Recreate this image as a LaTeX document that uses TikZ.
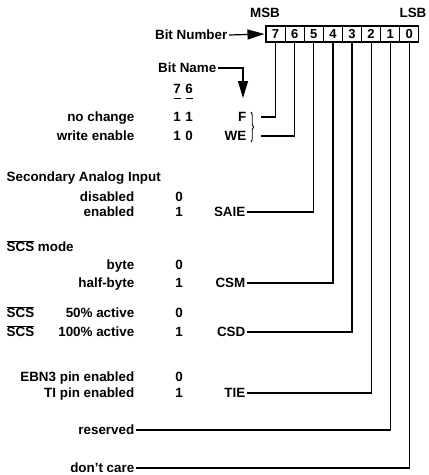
\documentclass[tikz,border=0pt]{standalone}
\usepackage{fontspec}
\setmainfont{Liberation Sans}
\usetikzlibrary{arrows.meta,decorations.pathreplacing}
\newcommand{\ovl}[1]{$\overline{\mbox{#1}}$}
\begin{document}
\begin{tikzpicture}[x=1pt,y=-1pt,
  lbl/.style={inner sep=1.5pt,font=\fontsize{13.4}{15}\selectfont\bfseries,text height=9.6pt,text depth=0pt},
  lr/.style={lbl,anchor=east},
  ll/.style={lbl,anchor=west},
  lc/.style={lbl,anchor=center},
  bitbox/.style={draw,line width=1.2pt,minimum width=19.1pt,minimum height=16pt,inner sep=0pt,font=\fontsize{13}{15}\selectfont\bfseries},
  conn/.style={line width=1.2pt},
  tri/.style={-{Triangle[length=17pt,width=10pt]}}]
\useasboundingbox (0,0) rectangle (429,475);
% bit boxes
\foreach \b/\i in {7/0,6/1,5/2,4/3,3/4,2/5,1/6,0/7}{
  \node[bitbox] (b\b) at (275.6+19.1*\i,34) {\b};
}
\node[lc] (msb) at (265,13) {MSB};
\node[lc] (lsb) at (413,13) {LSB};
\node[lr] (bitnum) at (229,35) {Bit Number};
\draw[conn,tri] (bitnum.east) -- ([xshift=-1pt]b7.west);
\node[lr] (bitname) at (218,68) {Bit Name};
\coordinate (bnc) at (243,68);
\coordinate (bnt) at (243,98);
\draw[conn,tri] (bitname.east) -- (bnc) -- (bnt);
% column header 7 6
\node[lc] (h7) at (177,89) {7};
\node[lc] (h6) at (189,89) {6};
\draw[conn] ([xshift=-3.5pt,yshift=-3pt]h7.south) -- ([xshift=3.5pt,yshift=-3pt]h7.south);
\draw[conn] ([xshift=-3.5pt,yshift=-3pt]h6.south) -- ([xshift=3.5pt,yshift=-3pt]h6.south);
% F / WE
\node[lr] (nochange) at (136,117) {no change};
\node[lc] (v71) at (177,117) {1};
\node[lc] (v61) at (189,117) {1};
\node[lr] (F) at (248,117) {F};
\node[lr] (wenable) at (136,136) {write enable};
\node[lc] (v72) at (177,136) {1};
\node[lc] (v62) at (189,136) {0};
\node[lr] (WE) at (248,136) {WE};
\draw[line width=0.9pt,decorate,decoration={brace,amplitude=2.5pt}] (251,112) -- (251,142);
\coordinate (fs) at (261,117);
\coordinate (wes) at (261,136);
\draw[conn] (fs) -| (b7.south);
\draw[conn] (wes) -| (b6.south);
% SAIE
\node[ll] (sai) at (5,177) {Secondary Analog Input};
\node[lr] (dis) at (136,197) {disabled};
\node[lc] (v5a) at (179,197) {0};
\node[lr] (en) at (136,212) {enabled};
\node[lc] (v5b) at (179,212) {1};
\node[lr] (saie) at (247,212) {SAIE};
\draw[conn] (saie.east) -| (b5.south);
% CSM
\node[ll] (scsmode) at (5,247) {\ovl{SCS} mode};
\node[lr] (byte) at (136,265) {byte};
\node[lc] (v4a) at (179,265) {0};
\node[lr] (hbyte) at (136,283) {half-byte};
\node[lc] (v4b) at (179,283) {1};
\node[lr] (csm) at (247,283) {CSM};
\draw[conn] (csm.east) -| (b4.south);
% CSD
\node[ll] (scsa) at (5,313) {\ovl{SCS}};
\node[lr] (act50) at (136,313) {50\% active};
\node[lc] (v3a) at (179,313) {0};
\node[ll] (scsb) at (5,332) {\ovl{SCS}};
\node[lr] (act100) at (136,332) {100\% active};
\node[lc] (v3b) at (179,332) {1};
\node[lr] (csd) at (247,332) {CSD};
\draw[conn] (csd.east) -| (b3.south);
% TIE
\node[lr] (ebn) at (136,377) {EBN3 pin enabled};
\node[lc] (v2a) at (179,377) {0};
\node[lr] (tip) at (136,393) {TI pin enabled};
\node[lc] (v2b) at (179,393) {1};
\node[lr] (tie) at (247,393) {TIE};
\draw[conn] (tie.east) -| (b2.south);
% reserved, don't care
\node[lr] (res) at (136,430) {reserved};
\draw[conn] (res.east) -| (b1.south);
\node[lr] (dc) at (136,468) {don't care};
\draw[conn] (dc.east) -| (b0.south);
\end{tikzpicture}
\end{document}
